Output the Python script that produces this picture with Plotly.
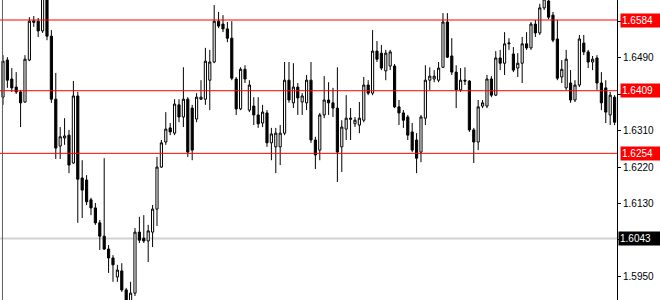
import plotly.graph_objects as go

# ---- data ----
open_ = [1.6393,1.6485,1.6438,1.6418,1.6406,1.6381,1.6485,1.6578,1.6581,1.6557,
         1.6634,1.6544,1.6388,1.6272,1.6292,1.6299,1.6230,1.6396,1.6193,1.6188,
         1.6139,1.6119,1.6082,1.6049,1.6017,1.5995,1.5948,1.5963,1.5916,1.5886,
         1.5908,1.6059,1.6044,1.6037,1.6059,1.6116,1.6220,1.6282,1.6317,1.6304,
         1.6374,1.6344,1.6388,1.6366,1.6339,1.6388,1.6388,1.6435,1.6480,1.6581,
         1.6574,1.6562,1.6539,1.6438,1.6364,1.6462,1.6361,1.6371,1.6349,1.6329,
         1.6354,1.6280,1.6270,1.6270,1.6304,1.6435,1.6379,1.6418,1.6381,1.6379,
         1.6435,1.6287,1.6262,1.6349,1.6386,1.6379,1.6366,1.6270,1.6314,1.6338,
         1.6327,1.6324,1.6336,1.6423,1.6403,1.6507,1.6502,1.6458,1.6470,1.6470,
         1.6369,1.6354,1.6344,1.6307,1.6287,1.6257,1.6341,1.6435,1.6438,1.6435,
         1.6467,1.6579,1.6495,1.6455,1.6411,1.6435,1.6433,1.6312,1.6282,1.6371,
         1.6371,1.6438,1.6398,1.6490,1.6477,1.6525,1.6500,1.6465,1.6477,1.6525,
         1.6515,1.6574,1.6552,1.6614,1.6631,1.6596,1.6537,1.6443,1.6416,1.6428,
         1.6386,1.6423,1.6527,1.6505,1.6480,1.6490,1.6428,1.6416,1.6349,1.6393]
high = [1.6497,1.6492,1.6465,1.6455,1.6411,1.6497,1.6591,1.6594,1.6589,1.6683,
        1.6653,1.6559,1.6453,1.6319,1.6341,1.6312,1.6433,1.6406,1.6237,1.6200,
        1.6144,1.6131,1.6089,1.6242,1.6027,1.6002,1.5978,1.5982,1.5921,1.5936,
        1.6069,1.6097,1.6101,1.6077,1.6126,1.6245,1.6287,1.6356,1.6329,1.6388,
        1.6388,1.6467,1.6393,1.6374,1.6403,1.6435,1.6515,1.6510,1.6621,1.6604,
        1.6596,1.6579,1.6581,1.6443,1.6467,1.6472,1.6435,1.6393,1.6393,1.6374,
        1.6361,1.6317,1.6317,1.6324,1.6480,1.6480,1.6477,1.6428,1.6403,1.6448,
        1.6480,1.6295,1.6354,1.6445,1.6430,1.6416,1.6467,1.6336,1.6398,1.6366,
        1.6344,1.6381,1.6443,1.6435,1.6559,1.6532,1.6522,1.6510,1.6510,1.6475,
        1.6386,1.6361,1.6349,1.6329,1.6304,1.6349,1.6472,1.6467,1.6460,1.6480,
        1.6601,1.6601,1.6539,1.6472,1.6465,1.6467,1.6435,1.6317,1.6386,1.6386,
        1.6448,1.6445,1.6507,1.6510,1.6554,1.6539,1.6517,1.6502,1.6542,1.6554,
        1.6579,1.6584,1.6624,1.6646,1.6641,1.6604,1.6584,1.6485,1.6510,1.6460,
        1.6435,1.6547,1.6547,1.6510,1.6495,1.6497,1.6455,1.6435,1.6406,1.6398]
low = [1.6374,1.6416,1.6406,1.6401,1.6319,1.6379,1.6482,1.6567,1.6542,1.6552,
       1.6534,1.6379,1.6240,1.6240,1.6275,1.6205,1.6228,1.6082,1.6094,1.6126,
       1.6101,1.6077,1.6015,1.6015,1.5958,1.5936,1.5936,1.5911,1.5866,1.5876,
       1.5901,1.6032,1.6032,1.5985,1.6022,1.6074,1.6218,1.6275,1.6299,1.6299,
       1.6331,1.6319,1.6245,1.6237,1.6331,1.6386,1.6374,1.6361,1.6477,1.6564,
       1.6554,1.6529,1.6435,1.6349,1.6361,1.6428,1.6356,1.6324,1.6317,1.6319,
       1.6270,1.6237,1.6205,1.6225,1.6299,1.6379,1.6366,1.6349,1.6349,1.6361,
       1.6280,1.6215,1.6237,1.6341,1.6349,1.6344,1.6183,1.6208,1.6287,1.6287,
       1.6319,1.6304,1.6331,1.6398,1.6398,1.6480,1.6460,1.6435,1.6460,1.6366,
       1.6324,1.6317,1.6287,1.6257,1.6205,1.6232,1.6324,1.6411,1.6430,1.6430,
       1.6465,1.6490,1.6448,1.6366,1.6406,1.6423,1.6307,1.6230,1.6262,1.6366,
       1.6366,1.6393,1.6396,1.6460,1.6448,1.6510,1.6455,1.6443,1.6428,1.6510,
       1.6510,1.6542,1.6547,1.6609,1.6586,1.6529,1.6435,1.6428,1.6411,1.6379,
       1.6381,1.6418,1.6497,1.6465,1.6460,1.6411,1.6361,1.6329,1.6324,1.6324]
close = [1.6482,1.6435,1.6416,1.6406,1.6379,1.6487,1.6581,1.6582,1.6557,1.6638,
         1.6544,1.6388,1.6267,1.6295,1.6297,1.6225,1.6396,1.6190,1.6163,1.6134,
         1.6119,1.6082,1.6049,1.6017,1.5995,1.5978,1.5965,1.5916,1.5879,1.5908,
         1.6059,1.6039,1.6037,1.6062,1.6116,1.6220,1.6280,1.6314,1.6307,1.6376,
         1.6344,1.6388,1.6257,1.6262,1.6393,1.6393,1.6482,1.6480,1.6581,1.6569,
         1.6562,1.6539,1.6440,1.6364,1.6462,1.6438,1.6423,1.6349,1.6327,1.6356,
         1.6280,1.6302,1.6304,1.6304,1.6435,1.6386,1.6418,1.6391,1.6396,1.6435,
         1.6287,1.6250,1.6349,1.6386,1.6379,1.6366,1.6257,1.6319,1.6341,1.6341,
         1.6336,1.6341,1.6423,1.6403,1.6507,1.6487,1.6465,1.6502,1.6505,1.6369,
         1.6354,1.6336,1.6299,1.6262,1.6242,1.6344,1.6435,1.6445,1.6445,1.6465,
         1.6579,1.6492,1.6455,1.6411,1.6435,1.6433,1.6312,1.6282,1.6369,1.6379,
         1.6438,1.6398,1.6490,1.6477,1.6525,1.6527,1.6460,1.6477,1.6525,1.6515,
         1.6574,1.6552,1.6614,1.6636,1.6591,1.6534,1.6440,1.6462,1.6487,1.6386,
         1.6423,1.6537,1.6505,1.6480,1.6487,1.6428,1.6379,1.6356,1.6398,1.6331]
bar_index = list(range(len(close)))

red_levels = [1.6584, 1.6409, 1.6254]
red_labels = ["1.6584", "1.6409", "1.6254"]
price_level = 1.6043
price_label = "1.6043"
tick_vals = [1.5950, 1.6040, 1.6130, 1.6220, 1.6310, 1.6400, 1.6490, 1.6580]
# labels for 1.6040 / 1.6400 / 1.6580 are covered by the level boxes in the reference
tick_text = ["1.5950", "", "1.6130", "1.6220", "1.6310", "", "1.6490", ""]

fig = go.Figure()
fig.add_trace(go.Candlestick(
    x=bar_index, open=open_, high=high, low=low, close=close,
    increasing=dict(line=dict(color="#000000", width=1), fillcolor="#ffffff"),
    decreasing=dict(line=dict(color="#000000", width=1), fillcolor="#000000"),
    whiskerwidth=0, hoverinfo="skip", showlegend=False,
))

shapes = []
shapes.append(dict(type="line", xref="paper", yref="y", x0=0, x1=1,
                   y0=price_level, y1=price_level,
                   line=dict(color="#d2d2d2", width=2), layer="below"))
for lv in red_levels:
    shapes.append(dict(type="line", xref="paper", yref="y", x0=0, x1=1,
                       y0=lv, y1=lv, line=dict(color="#ff0000", width=1), layer="above"))
# left frame line
shapes.append(dict(type="line", xref="paper", yref="paper", x0=0.004, x1=0.004,
                   y0=0, y1=1, line=dict(color="#606060", width=1)))

annotations = []
for lv, lab in zip(red_levels, red_labels):
    annotations.append(dict(xref="paper", yref="y", x=1, y=lv, xanchor="left",
                            yanchor="middle", xshift=3, text=lab, showarrow=False,
                            font=dict(family="Liberation Sans", size=10, color="#ffffff"),
                            bgcolor="#ff0000", borderpad=1, width=38, align="left"))
annotations.append(dict(xref="paper", yref="y", x=1, y=price_level, xanchor="left",
                        yanchor="middle", xshift=1, text=price_label, showarrow=False,
                        font=dict(family="Liberation Sans", size=10, color="#ffffff"),
                        bgcolor="#000000", borderpad=1, width=40, align="left"))

fig.update_layout(
    width=660, height=300,
    margin=dict(l=0, r=43, t=0, b=0),
    paper_bgcolor="#ffffff", plot_bgcolor="#ffffff",
    showlegend=False,
    shapes=shapes, annotations=annotations,
    xaxis=dict(range=[-0.68, 139.55], showgrid=False, zeroline=False,
               showticklabels=False, rangeslider=dict(visible=False), fixedrange=True),
    yaxis=dict(side="right", range=[1.5891, 1.66335], tickvals=tick_vals, ticktext=tick_text,
               ticks="outside", ticklen=3, tickcolor="#000000", showline=True,
               linecolor="#000000", linewidth=1, showgrid=False, zeroline=False,
               tickfont=dict(family="Liberation Sans", size=10, color="#000000")),
)

fig.write_html("out.html")
